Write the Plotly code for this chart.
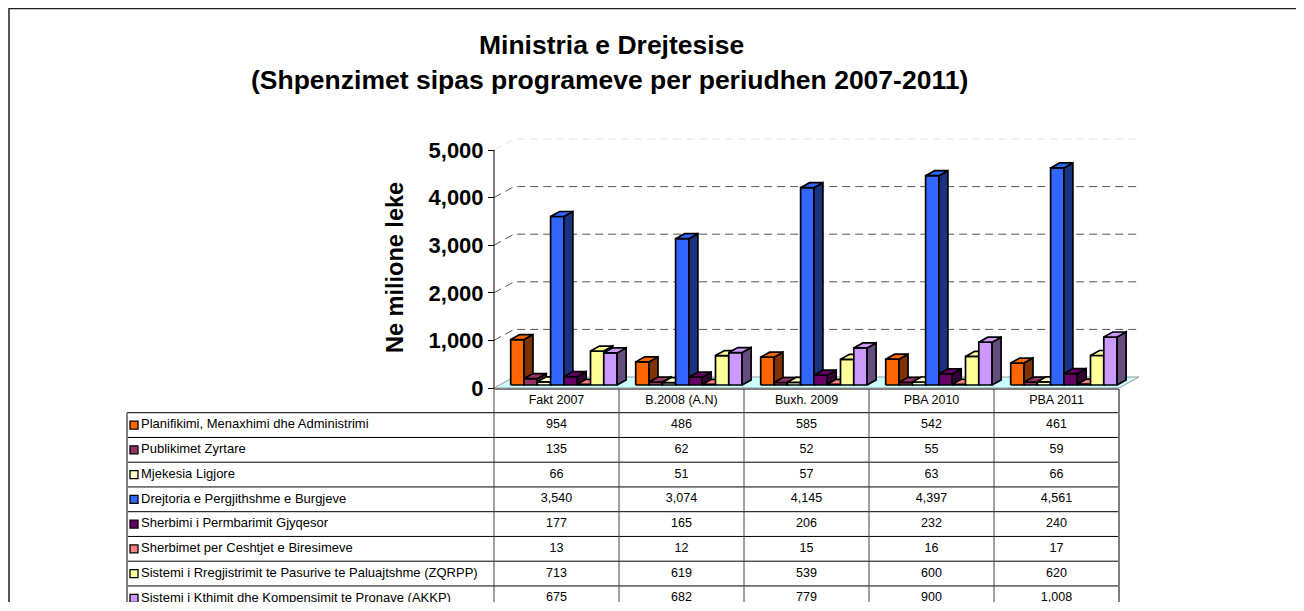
import plotly.graph_objects as go

# ---------------- data ----------------
categories = ["Fakt 2007", "B.2008 (A.N)", "Buxh. 2009", "PBA 2010", "PBA 2011"]
series_names = [
    "Planifikimi, Menaxhimi dhe Administrimi",
    "Publikimet Zyrtare",
    "Mjekesia Ligjore",
    "Drejtoria e Pergjithshme e Burgjeve",
    "Sherbimi i Permbarimit Gjyqesor",
    "Sherbimet per Ceshtjet e Biresimeve",
    "Sistemi i Rregjistrimit te Pasurive te Paluajtshme (ZQRPP)",
    "Sistemi i Kthimit dhe Kompensimit te Pronave (AKKP)",
]
planifikimi = [954, 486, 585, 542, 461]
publikimet = [135, 62, 52, 55, 59]
mjekesia = [66, 51, 57, 63, 66]
drejtoria = [3540, 3074, 4145, 4397, 4561]
permbarimi = [177, 165, 206, 232, 240]
biresimet = [13, 12, 15, 16, 17]
zqrpp = [713, 619, 539, 600, 620]
akkp = [675, 682, 779, 900, 1008]
series_values = [planifikimi, publikimet, mjekesia, drejtoria, permbarimi, biresimet, zqrpp, akkp]
y_ticks = [0, 1000, 2000, 3000, 4000, 5000]

# ---------------- styles ----------------
front_colors = ["#FF6600", "#993366", "#FFFFCC", "#3366FF", "#660066", "#FF8080", "#FFFF99", "#CC99FF"]
side_colors = ["#803300", "#4D1A33", "#808066", "#1A3380", "#330033", "#804040", "#80804D", "#664D80"]
FONT = "Liberation Sans, Arial, sans-serif"

# ---------------- geometry helpers (pixels -> paper / axis units) ----------------
W, H = 1296, 594
OX, OY = 8, 8
def fx(px):
    return (px - OX) / W
def fy(py):
    return 1 - (py - OY) / H

CAT_PX = 125.0            # width of one category (px)
AX_LEFT = 494.0           # x of value axis
Y0_PX, Y5000_PX = 388.0, 150.0
UNIT_PER_PX = 5000.0 / (Y0_PX - Y5000_PX)
Y_TOP_PX = 128.0

def bx(px):               # pixel -> main x data
    return (px - AX_LEFT) / CAT_PX - 0.5

# 3-D depth parameters
WALL_DX = 20 / CAT_PX
WALL_DY = 11 * UNIT_PER_PX
BAR_DX = 9 / CAT_PX
BAR_DY = 5 * UNIT_PER_PX
BAR_BASE = 3 * UNIT_PER_PX
BAR_W = 13.3 / CAT_PX
GROUP_OFF = 16.7 / CAT_PX

fig = go.Figure()

# floor
fig.add_trace(go.Scatter(
    x=[-0.5, 4.5, 4.5 + WALL_DX, -0.5 + WALL_DX, -0.5],
    y=[0, 0, WALL_DY, WALL_DY, 0],
    mode="lines", fill="toself", fillcolor="#CCFFFF",
    line=dict(color="#9A9A9A", width=1), hoverinfo="skip", showlegend=False,
    xaxis="x", yaxis="y"))

# gridlines on back wall
gx, gy = [], []
for v in y_ticks[1:-1]:
    gx += [-0.5, -0.5 + WALL_DX, 4.5 + WALL_DX, None]
    gy += [v, v + WALL_DY, v + WALL_DY, None]
fig.add_trace(go.Scatter(
    x=gx, y=gy, mode="lines", line=dict(color="#555555", width=1, dash="8px,5px"),
    hoverinfo="skip", showlegend=False, xaxis="x", yaxis="y"))
top_v = y_ticks[-1]
fig.add_trace(go.Scatter(
    x=[-0.5, -0.5 + WALL_DX, 4.5 + WALL_DX],
    y=[top_v, top_v + WALL_DY, top_v + WALL_DY],
    mode="lines", line=dict(color="#E4E4E4", width=1, dash="8px,5px"),
    hoverinfo="skip", showlegend=False, xaxis="x", yaxis="y"))

# value axis line
fig.add_trace(go.Scatter(
    x=[-0.5, -0.5], y=[y_ticks[0], y_ticks[-1]], mode="lines",
    line=dict(color="black", width=1), hoverinfo="skip", showlegend=False,
    xaxis="x", yaxis="y"))

# 3-D bars: front, side and top faces per series
for s, vals in enumerate(series_values):
    fxs, fys, sxs, sys_, txs, tys = [], [], [], [], [], []
    for c, v in enumerate(vals):
        L = c - 0.5 + GROUP_OFF + s * BAR_W
        R = L + BAR_W
        b = BAR_BASE
        t = BAR_BASE + v
        fxs += [L, R, R, L, L, None]
        fys += [b, b, t, t, b, None]
        sxs += [R, R + BAR_DX, R + BAR_DX, R, R, None]
        sys_ += [b, b + BAR_DY, t + BAR_DY, t, b, None]
        txs += [L, R, R + BAR_DX, L + BAR_DX, L, None]
        tys += [t, t, t + BAR_DY, t + BAR_DY, t, None]
    for xs, ys, col in ((fxs, fys, front_colors[s]), (sxs, sys_, side_colors[s]), (txs, tys, front_colors[s])):
        fig.add_trace(go.Scatter(
            x=xs, y=ys, mode="lines", fill="toself", fillcolor=col,
            line=dict(color="black", width=1.7), hoverinfo="skip", showlegend=False,
            xaxis="x", yaxis="y"))

# ---------------- data table ----------------
TB_LEFT, TB_RIGHT = 127.0, 1120.0
TB_TOP, HDR_BOT, ROW_H, TB_CLIP = 389.0, 412.7, 24.75, 601.0
def ty(py):
    return (py - HDR_BOT) / ROW_H

n_rows = len(series_names)
hx, hy = [], []
for r in range(n_rows):
    hx += [bx(TB_LEFT), 4.5, None]
    hy += [r, r, None]
hx += [-0.5, 4.5, None]
hy += [ty(TB_TOP), ty(TB_TOP), None]
fig.add_trace(go.Scatter(x=hx, y=hy, mode="lines", line=dict(color="black", width=1),
                         hoverinfo="skip", showlegend=False, xaxis="x2", yaxis="y2"))
vx, vy = [], []
for k in range(len(categories)):
    vx += [k - 0.5, k - 0.5, None]
    vy += [ty(TB_TOP), n_rows + 1, None]
fig.add_trace(go.Scatter(x=vx, y=vy, mode="lines", line=dict(color="#444444", width=1),
                         hoverinfo="skip", showlegend=False, xaxis="x2", yaxis="y2"))
fig.add_trace(go.Scatter(
    x=[4.5, 4.5, None, bx(TB_LEFT), bx(TB_LEFT)],
    y=[ty(TB_TOP), n_rows + 1, None, 0, n_rows + 1],
    mode="lines", line=dict(color="#808080", width=2),
    hoverinfo="skip", showlegend=False, xaxis="x2", yaxis="y2"))

# header labels
fig.add_trace(go.Scatter(
    x=list(range(len(categories))), y=[ty(400.5)] * len(categories),
    mode="text", text=categories, textposition="middle center",
    textfont=dict(family=FONT, size=12.5, color="black"),
    hoverinfo="skip", showlegend=False, xaxis="x2", yaxis="y2"))

# values
tx_, ty_, tt_ = [], [], []
for r, vals in enumerate(series_values):
    for c, v in enumerate(vals):
        tx_.append(c)
        ty_.append(r + 0.5)
        tt_.append(f"{v:,}")
fig.add_trace(go.Scatter(
    x=tx_, y=ty_, mode="text", text=tt_, textposition="middle center",
    textfont=dict(family=FONT, size=12.5, color="black"),
    hoverinfo="skip", showlegend=False, xaxis="x2", yaxis="y2"))

# series labels + swatches
fig.add_trace(go.Scatter(
    x=[bx(141)] * n_rows, y=[r + 0.5 for r in range(n_rows)],
    mode="text", text=series_names, textposition="middle right",
    textfont=dict(family=FONT, size=13, color="black"),
    hoverinfo="skip", showlegend=False, xaxis="x2", yaxis="y2"))
fig.add_trace(go.Scatter(
    x=[bx(134)] * n_rows, y=[r + 0.5 for r in range(n_rows)],
    mode="markers",
    marker=dict(symbol="square", size=8, color=front_colors, line=dict(color="black", width=1.3)),
    hoverinfo="skip", showlegend=False, xaxis="x2", yaxis="y2"))

# ---------------- layout ----------------
fig.update_layout(
    width=W, height=H,
    margin=dict(l=0, r=0, t=0, b=0, pad=0, autoexpand=False),
    paper_bgcolor="white", plot_bgcolor="rgba(0,0,0,0)",
    showlegend=False,
    font=dict(family=FONT, color="black"),
    xaxis=dict(domain=[fx(480), fx(1152)], range=[bx(480), bx(1152)],
               visible=False, fixedrange=True, automargin=False),
    yaxis=dict(domain=[fy(Y0_PX), fy(Y_TOP_PX)], range=[0, (Y0_PX - Y_TOP_PX) * UNIT_PER_PX],
               anchor="free", position=fx(AX_LEFT),
               tickvals=y_ticks, tickformat=",d",
               tickfont=dict(family=FONT, size=22, color="black", weight="bold"),
               showline=False, ticks="outside", ticklen=6, tickcolor="black", tickwidth=1,
               showgrid=False, zeroline=False, fixedrange=True, automargin=False),
    xaxis2=dict(domain=[fx(118), fx(1128)], range=[bx(118), bx(1128)],
                visible=False, anchor="y2", fixedrange=True, automargin=False),
    yaxis2=dict(domain=[0, fy(382)], range=[ty(OY + H), ty(382)],
                visible=False, anchor="x2", fixedrange=True, automargin=False),
    shapes=[dict(type="rect", xref="paper", yref="paper",
                 x0=fx(9), y0=fy(625), x1=fx(1320), y1=fy(8.5),
                 line=dict(color="#222222", width=1.5), fillcolor="rgba(0,0,0,0)", layer="above")],
    annotations=[
        dict(text="<b>Ministria e Drejtesise</b>", x=fx(611), y=fy(45), xref="paper", yref="paper",
             showarrow=False, xanchor="center", yanchor="middle",
             font=dict(family=FONT, size=26.5, color="black")),
        dict(text="<b>(Shpenzimet sipas programeve per periudhen 2007-2011)</b>", x=fx(609), y=fy(80),
             xref="paper", yref="paper", showarrow=False, xanchor="center", yanchor="middle",
             font=dict(family=FONT, size=26.5, color="black")),
        dict(text="<b>Ne milione leke</b>", x=fx(395), y=fy(268), xref="paper", yref="paper",
             showarrow=False, textangle=-90, xanchor="center", yanchor="middle",
             font=dict(family=FONT, size=23.5, color="black")),
    ],
)

fig.write_html("out.html", config={"displayModeBar": False})
